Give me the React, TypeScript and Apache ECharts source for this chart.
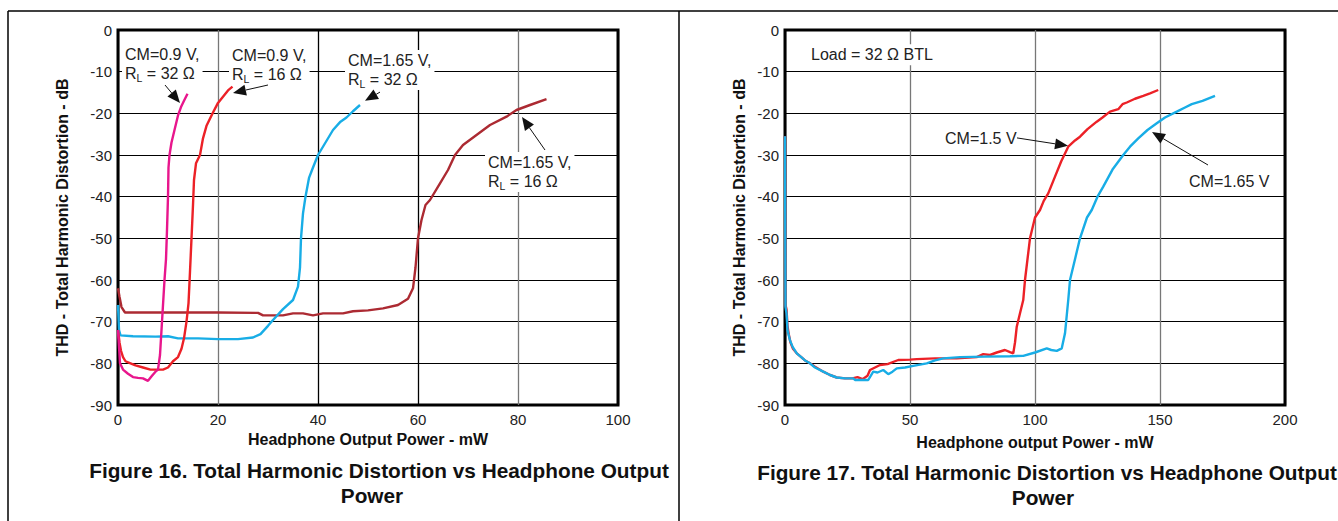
import React, { useEffect, useRef } from "react";
import * as echarts from "echarts";

// ---------- Figure 16 data (x: mW, y: dB) ----------
const fig16XTicks = [0, 20, 40, 60, 80, 100];
const fig16YTicks = [0, -10, -20, -30, -40, -50, -60, -70, -80, -90];

const cm09_32: number[][] = [
  [0, -72], [0.2, -76], [0.4, -80], [1, -81.5], [2, -82.5], [3, -83.3], [4, -83.5], [5, -83.6],
  [6, -84.2], [6.8, -83], [7.5, -82], [8, -81.5], [8.4, -78], [8.7, -72], [9, -66], [9.3, -60],
  [9.6, -55], [9.8, -48], [10, -40], [10.1, -33], [10.3, -30], [10.7, -27], [11.3, -24],
  [12, -20.5], [12.6, -18.5], [13.2, -17], [13.9, -15.3],
];
const cm09_16: number[][] = [
  [0, -72], [0.3, -75], [0.6, -77], [1, -78.5], [1.5, -79.5], [2.5, -80], [3.5, -80.5], [5, -81],
  [6.5, -81.5], [8, -81.5], [9, -81.5], [10, -81], [11, -79.5], [12, -78.5], [12.7, -76.5],
  [13.2, -74], [13.7, -70], [14.1, -65.6], [14.4, -58], [14.7, -50], [15, -42], [15.2, -36],
  [15.6, -32], [16.4, -30], [17, -26], [17.7, -23], [19, -19.8], [20, -17.5], [21, -16],
  [22, -14.5], [22.9, -13.6],
];
const cm165_32: number[][] = [
  [0, -66], [0.2, -72], [0.5, -73.3], [3, -73.5], [7.5, -73.6], [10, -73.5], [12, -74], [16, -74],
  [20, -74.2], [24, -74.2], [27, -73.8], [28.5, -73], [30, -71], [31, -69.6], [33, -67], [35, -64.8],
  [36, -61.6], [36.4, -57], [36.6, -50], [37, -44], [37.5, -40], [38.2, -35.5], [39, -33], [40, -30],
  [41.5, -27], [43, -24], [44.5, -22], [45.7, -21], [47, -19.5], [48.4, -18],
];
const cm165_16: number[][] = [
  [0, -62], [0.3, -64], [0.7, -66.5], [1.4, -67.8], [10, -67.8], [20, -67.8], [28, -67.9], [29, -68.5],
  [33, -68.5], [35, -68], [37, -68], [39, -68.5], [41, -68], [45, -68], [47, -67.5], [50, -67.3],
  [53, -66.8], [56, -66], [58, -64.5], [59, -62], [59.5, -57], [60, -50], [60.7, -45.6], [61.5, -42],
  [62.4, -40.8], [64.4, -36.8], [66, -33.6], [67.4, -30], [69, -27.6], [71.7, -25.2], [74.4, -22.8],
  [77.7, -20.8], [79.7, -19.2], [82.4, -18], [85.7, -16.6],
];

// ---------- Figure 17 data ----------
const fig17XTicks = [0, 50, 100, 150, 200];
const fig17YTicks = [0, -10, -20, -30, -40, -50, -60, -70, -80, -90];

const cm15: number[][] = [
  [0, -25.5], [0.1, -45], [0.2, -66], [0.6, -67], [1, -71], [1.5, -73], [2.2, -75], [3.2, -76.5],
  [4.7, -77.6], [6.5, -78.5], [8, -79.3], [10, -80], [12, -80.8], [15.3, -82], [18, -82.8],
  [20.7, -83.4], [24, -83.6], [27, -83.6], [29, -83.3], [31, -83.8], [33, -83], [34, -81.6],
  [36, -81], [38, -80.4], [41, -80.2], [45.3, -79.2], [50, -79.1], [52.7, -79], [60, -78.8],
  [68.7, -78.8], [76.7, -78.5], [79.3, -77.8], [82, -78], [84.7, -77.4], [88, -76.8], [90, -77.3],
  [91.3, -77.6], [92, -75], [92.7, -71.2], [94, -68], [95.3, -64.8], [96, -60], [97, -55], [98, -50],
  [100, -45], [102, -43.2], [103.5, -41], [105.3, -39.2], [108, -35.2], [110.5, -31.5], [113.3, -28],
  [116, -26.5], [118, -25.6], [121, -23.8], [124.7, -22], [127, -21], [130, -19.6], [133.3, -19],
  [135, -17.8], [136.7, -17.4], [140, -16.5], [143.3, -15.8], [146, -15.2], [149.3, -14.4],
];
const cm165: number[][] = [
  [0, -25.5], [0.1, -45], [0.2, -66.5], [0.6, -68], [1, -72], [1.3, -72.8], [2, -74.5], [3, -76],
  [4.7, -77.6], [6.5, -78.5], [8, -79.3], [10, -80], [12, -81], [15.3, -82], [18, -82.8],
  [20.7, -83.4], [24, -83.6], [27.3, -83.6], [28, -84], [30, -84], [33.3, -84], [35.3, -82],
  [37, -82.2], [39.3, -81.6], [41.3, -82.6], [43, -82], [44.7, -81.2], [48, -81], [51.3, -80.6],
  [54, -80.3], [56.7, -80], [60, -79.3], [63.3, -78.8], [70, -78.5], [80, -78.4], [90, -78.3],
  [95.3, -78.2], [100, -77.4], [104.7, -76.4], [106.5, -76.8], [108.7, -77], [110.7, -76.4],
  [112, -72.8], [113.3, -64.8], [114, -60], [116, -55], [118, -50], [120.8, -45], [122.7, -43.2],
  [125, -40], [127.3, -37.6], [131, -33.5], [135.3, -30], [138, -28], [141.3, -26], [145, -24],
  [148.7, -22.4], [152, -21], [156.7, -19.6], [160, -18.6], [162.7, -17.8], [167, -17], [172, -15.8],
];

// ---------- Annotations (data coordinates) ----------
const fig16Notes = [
  { text: "CM=0.9 V,\nR{s|L} = 32 Ω", at: [0.8, -3.4], tail: [9.4, -13.2], head: [12.4, -17.5] },
  { text: "CM=0.9 V,\nR{s|L} = 16 Ω", at: [22.2, -3.6], tail: [30, -13.2], head: [23, -15.1] },
  { text: "CM=1.65 V,\nR{s|L} = 32 Ω", at: [45.4, -4.8], tail: [52.4, -14.9], head: [49.4, -17] },
  { text: "CM=1.65 V,\nR{s|L} = 16 Ω", at: [73.4, -29.3], tail: [85.4, -28.8], head: [80.8, -20.9] },
];
const fig17Notes = [
  { text: "Load = 32 Ω BTL", at: [9.2, -3.4], tail: null, head: null },
  { text: "CM=1.5 V", at: [62.8, -23.4], tail: [92.8, -25.9], head: [113.2, -27.8] },
  { text: "CM=1.65 V", at: [160.4, -33.8], tail: [169.2, -32.4], head: [146.8, -24.5] },
];

const FONT = '"Liberation Sans", Arial, Helvetica, sans-serif';

function axisX(grid: number, ticks: number[], name: string, colors: string[], gap: number) {
  return {
    type: "value",
    gridIndex: grid,
    min: ticks[0],
    max: ticks[ticks.length - 1],
    interval: ticks[1] - ticks[0],
    name,
    nameLocation: "middle",
    nameGap: gap,
    nameTextStyle: { fontFamily: FONT, fontWeight: "bold", fontSize: 16, color: "#111" },
    axisLine: { show: false },
    axisTick: { show: false },
    axisLabel: { fontFamily: FONT, fontSize: 15, color: "#222", margin: 7 },
    splitLine: { show: true, lineStyle: { color: colors, width: 1.3 } },
  };
}
function axisY(grid: number, ticks: number[], gap: number) {
  const sorted = [...ticks].sort((a, b) => a - b);
  return {
    type: "value",
    gridIndex: grid,
    min: sorted[0],
    max: sorted[sorted.length - 1],
    interval: sorted[1] - sorted[0],
    name: "THD - Total Harmonic Distortion - dB",
    nameLocation: "middle",
    nameGap: gap,
    nameTextStyle: { fontFamily: FONT, fontWeight: "bold", fontSize: 16, color: "#111" },
    axisLine: { show: false },
    axisTick: { show: false },
    axisLabel: { fontFamily: FONT, fontSize: 15, color: "#222", margin: 6 },
    splitLine: { show: true, lineStyle: { color: "#000", width: 1 } },
  };
}
function line(data: number[][], color: string, idx: number) {
  return {
    type: "line",
    xAxisIndex: idx,
    yAxisIndex: idx,
    data,
    showSymbol: false,
    symbol: "none",
    lineStyle: { color, width: 2.4 },
    silent: true,
  };
}

function arrowParts(t: number[], h: number[]) {
  const dx = h[0] - t[0];
  const dy = h[1] - t[1];
  const len = Math.sqrt(dx * dx + dy * dy) || 1;
  const ux = dx / len, uy = dy / len;
  const L = 13, W = 5.5;
  const bx = h[0] - ux * L, by = h[1] - uy * L;
  const nx = -uy, ny = ux;
  return [
    { type: "line", shape: { x1: t[0], y1: t[1], x2: bx, y2: by }, style: { stroke: "#111", lineWidth: 1 }, z: 20 },
    {
      type: "polygon",
      shape: { points: [[h[0], h[1]], [bx + nx * W, by + ny * W], [bx - nx * W, by - ny * W]] },
      style: { fill: "#111" },
      z: 20,
    },
  ];
}

export default function App() {
  const ref = useRef<HTMLDivElement>(null);
  useEffect(() => {
    document.body.style.margin = "0";
    const chart = echarts.init(ref.current!, null, { renderer: "svg" });
    chart.setOption({
      animation: false,
      backgroundColor: "#fff",
      grid: [
        { left: 118, top: 30, width: 500, height: 375, show: true, borderColor: "#000", borderWidth: 3, backgroundColor: "transparent" },
        { left: 785, top: 30, width: 500, height: 375, show: true, borderColor: "#000", borderWidth: 3, backgroundColor: "transparent" },
      ],
      xAxis: [
        axisX(0, fig16XTicks, "Headphone Output Power - mW", ["#000", "#777", "#000", "#000", "#777", "#000"], 26),
        axisX(1, fig17XTicks, "Headphone output Power - mW", ["#000", "#777", "#777", "#777", "#000"], 29),
      ],
      yAxis: [axisY(0, fig16YTicks, 48), axisY(1, fig17YTicks, 38)],
      series: [
        line(cm165_16, "#ac2a32", 0),
        line(cm165_32, "#18ade6", 0),
        line(cm09_16, "#ec2127", 0),
        line(cm09_32, "#e8168c", 0),
        line(cm15, "#ec2127", 1),
        line(cm165, "#18ade6", 1),
      ],
    });

    const graphics: any[] = [];
    // panel frames
    graphics.push({ type: "line", shape: { x1: 8, y1: 11, x2: 1338, y2: 11 }, style: { stroke: "#000", lineWidth: 1.5 } });
    graphics.push({ type: "line", shape: { x1: 8, y1: 11, x2: 8, y2: 521 }, style: { stroke: "#000", lineWidth: 1.5 } });
    graphics.push({ type: "line", shape: { x1: 679, y1: 11, x2: 679, y2: 521 }, style: { stroke: "#000", lineWidth: 1.5 } });

    const noteStyle = {
      fill: "#222",
      fontFamily: FONT,
      fontSize: 16,
      lineHeight: 19,
      backgroundColor: "#fff",
      padding: [1, 3, 1, 3],
      rich: { s: { fontSize: 10.5, fontFamily: FONT, verticalAlign: "bottom", padding: [7, 0, 0, 0], fill: "#222" } },
    };
    const addNotes = (notes: any[], gridIndex: number) => {
      notes.forEach((n) => {
        const p = chart.convertToPixel({ gridIndex } as any, n.at) as number[];
        graphics.push({ type: "text", x: p[0], y: p[1], z: 10, style: { ...noteStyle, text: n.text } });
        if (n.tail && n.head) {
          const t = chart.convertToPixel({ gridIndex } as any, n.tail) as number[];
          const h = chart.convertToPixel({ gridIndex } as any, n.head) as number[];
          graphics.push(...arrowParts(t, h));
        }
      });
    };
    addNotes(fig16Notes, 0);
    addNotes(fig17Notes, 1);

    // captions
    const cap = { fill: "#111", fontFamily: FONT, fontWeight: "bold", fontSize: 20.8, align: "center", verticalAlign: "middle" };
    graphics.push({ type: "text", x: 379, y: 470, style: { ...cap, text: "Figure 16. Total Harmonic Distortion vs Headphone Output" } });
    graphics.push({ type: "text", x: 372, y: 495, style: { ...cap, text: "Power" } });
    graphics.push({ type: "text", x: 1047, y: 472, style: { ...cap, text: "Figure 17. Total Harmonic Distortion vs Headphone Output" } });
    graphics.push({ type: "text", x: 1043, y: 497, style: { ...cap, text: "Power" } });

    chart.setOption({ graphic: graphics });
    return () => chart.dispose();
  }, []);
  return <div ref={ref} style={{ width: 1338, height: 521 }} />;
}
